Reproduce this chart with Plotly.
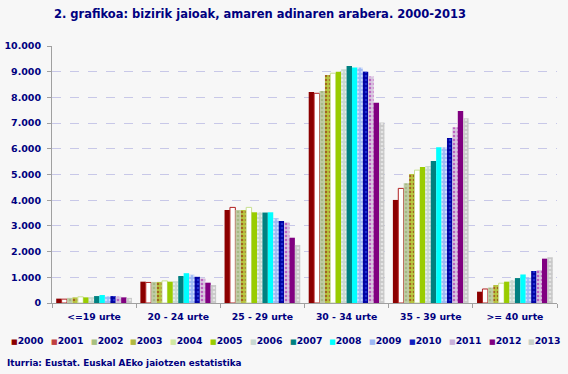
import plotly.graph_objects as go

categories = ["<=19 urte", "20 - 24 urte", "25 - 29 urte", "30 - 34 urte", "35 - 39 urte", ">= 40 urte"]
years = ["2000", "2001", "2002", "2003", "2004", "2005", "2006",
         "2007", "2008", "2009", "2010", "2011", "2012", "2013"]

v2000 = [170, 830, 3620, 8210, 4010, 440]
v2001 = [150, 800, 3720, 8160, 4460, 545]
v2002 = [200, 820, 3620, 8250, 4660, 600]
v2003 = [220, 820, 3620, 8870, 5020, 700]
v2004 = [240, 860, 3720, 8940, 5170, 770]
v2005 = [220, 830, 3530, 9000, 5290, 830]
v2006 = [230, 850, 3530, 9100, 5330, 895]
v2007 = [270, 1050, 3520, 9220, 5525, 970]
v2008 = [310, 1160, 3530, 9160, 6060, 1110]
v2009 = [260, 1100, 3300, 9160, 6060, 985]
v2010 = [270, 1020, 3190, 9000, 6420, 1245]
v2011 = [250, 960, 3140, 8810, 6840, 1285]
v2012 = [220, 790, 2540, 7790, 7470, 1725]
v2013 = [200, 700, 2260, 7020, 7190, 1780]
series = [v2000, v2001, v2002, v2003, v2004, v2005, v2006,
          v2007, v2008, v2009, v2010, v2011, v2012, v2013]

y_ticks = [0, 1000, 2000, 3000, 4000, 5000, 6000, 7000, 8000, 9000, 10000]

# style per year: (bg color, pattern fg color or None, line color or None, legend swatch color)
styles = [
    ("#8b0000", None, None, "#8b0000"),
    ("#ffffff", None, "#b02020", "#c04040"),
    ("#c0cca8", "#8ca860", None, "#a8c080"),
    ("#b8c840", "#8b0000", None, "#b0b840"),
    ("#ffffff", None, "#c8e090", "#d0e8a0"),
    ("#99cc00", None, None, "#99cc00"),
    ("#c8d8d0", "#ffffff", None, "#c8d8d0"),
    ("#008080", None, None, "#008080"),
    ("#00ffff", None, None, "#00ffff"),
    ("#9cb8f4", "#ffffff", None, "#9cb8f4"),
    ("#0000a0", "#4060ff", None, "#1020c0"),
    ("#d8c8e0", "#a000a0", None, "#c8b0d8"),
    ("#800080", None, None, "#800080"),
    ("#c8c8c8", "#ffffff", None, "#c8d0c8"),
]

navy = "#000080"
font_family = "DejaVu Sans"

fig = go.Figure()
for yr, vals, (bg, fg, lc, sw) in zip(years, series, styles):
    marker = dict(color=bg)
    if fg:
        marker["pattern"] = dict(shape=".", fgcolor=fg, bgcolor=bg, size=4, solidity=0.35)
    if lc:
        marker["line"] = dict(color=lc, width=1)
    else:
        marker["line"] = dict(width=0)
    fig.add_trace(go.Bar(name=yr, x=categories, y=vals, marker=marker))

W, H = 568, 374
ml, mr, mt, mb = 52, 11, 46, 71
pw = W - ml - mr
ph = H - mt - mb

def px_to_paper_x(px):
    return (px - ml) / pw

def px_to_paper_y(py):
    return (H - mb - py) / ph

annotations = []
for i, (yr, st) in enumerate(zip(years, styles)):
    annotations.append(dict(
        x=px_to_paper_x(9 + i * 39.8), y=px_to_paper_y(340),
        xref="paper", yref="paper", xanchor="left", yanchor="middle",
        showarrow=False,
        text=f"<span style='color:{st[3]};font-size:7px'>■</span>{yr}",
        font=dict(family=font_family, size=9.3, color=navy, weight="bold"),
    ))
annotations.append(dict(
    x=px_to_paper_x(5), y=px_to_paper_y(363),
    xref="paper", yref="paper", xanchor="left", yanchor="middle",
    showarrow=False,
    text="Iturria: Eustat. Euskal AEko jaiotzen estatistika",
    font=dict(family=font_family, size=8.8, color=navy, weight="bold"),
))

fig.update_layout(
    width=W, height=H,
    margin=dict(l=ml, r=mr, t=mt, b=mb),
    paper_bgcolor="#f7f7f7", plot_bgcolor="#f7f7f7",
    barmode="group", bargap=0.1, bargroupgap=0,
    showlegend=False,
    separators=",.",
    title=dict(text="2. grafikoa: bizirik jaioak, amaren adinaren arabera. 2000-2013",
               x=260 / W, xanchor="center", y=1 - 14 / H, yanchor="middle",
               font=dict(family=font_family, size=11.5, color=navy, weight="bold")),
    annotations=annotations,
    font=dict(family=font_family, color=navy),
)
fig.update_yaxes(range=[0, 10000], tickvals=y_ticks, tickformat=",d",
                 showgrid=True, gridcolor="#c8c8e8", griddash="dash", gridwidth=1,
                 showline=True, linecolor="#a0a0a0", linewidth=1,
                 ticks="outside", ticklen=4, tickcolor="#a0a0a0",
                 zeroline=False, automargin=False, ticklabelstandoff=4,
                 tickfont=dict(family=font_family, size=9.5, color=navy, weight="bold"))
fig.update_xaxes(showline=True, linecolor="#a0a0a0", linewidth=1,
                 ticks="outside", ticklen=4, tickcolor="#a0a0a0", tickson="boundaries",
                 showgrid=False, automargin=False, ticklabelstandoff=5,
                 tickfont=dict(family=font_family, size=9.3, color=navy, weight="bold"))

fig.write_html("out.html", config={"displayModeBar": False},
               post_script="document.body.style.margin='0px';document.body.style.background='#f7f7f7';")
